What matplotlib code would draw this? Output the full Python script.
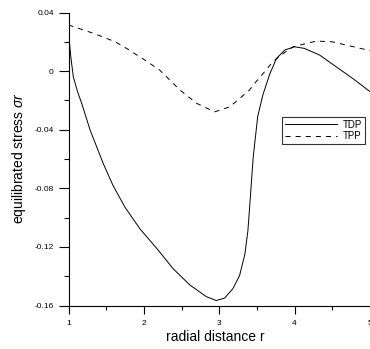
import matplotlib
matplotlib.use("Agg")
import matplotlib.pyplot as plt
from matplotlib.ticker import MultipleLocator, FixedLocator

plt.rcParams['font.family'] = ['Liberation Sans', 'DejaVu Sans']
plt.rcParams['mathtext.fontset'] = 'custom'
plt.rcParams['mathtext.rm'] = 'Liberation Sans'
plt.rcParams['mathtext.it'] = 'Liberation Sans:italic'

# data
tdp_r = [1.0, 1.01, 1.03, 1.064, 1.12, 1.175, 1.285, 1.46, 1.59, 1.75, 1.947, 2.17,
         2.39, 2.61, 2.83, 2.96, 3.07, 3.18, 3.27, 3.34, 3.38, 3.40, 3.45, 3.51, 3.58,
         3.67, 3.76, 3.87, 4.0, 4.13, 4.33, 4.55, 4.77, 5.0]
tdp_v = [0.026, 0.021, 0.010, -0.004, -0.014, -0.022, -0.040, -0.063, -0.078, -0.093,
         -0.1076, -0.121, -0.135, -0.146, -0.154, -0.1566, -0.155, -0.1486, -0.1395,
         -0.125, -0.109, -0.095, -0.059, -0.031, -0.016, -0.002, 0.0087, 0.0144, 0.0166,
         0.0155, 0.011, 0.003, -0.005, -0.014]

tpp_r = [1.0, 1.33, 1.62, 1.77, 1.86, 2.0, 2.21, 2.48, 2.70, 2.94, 3.14, 3.40, 3.45,
         3.62, 3.71, 3.85, 3.98, 4.29, 4.50, 4.68, 5.0]
tpp_v = [0.0315, 0.0258, 0.020, 0.0155, 0.0125, 0.008, 0.0007, -0.013, -0.022, -0.0278,
         -0.0244, -0.013, -0.0096, 0.0007, 0.0064, 0.012, 0.0166, 0.0205, 0.0200, 0.0178,
         0.0140]

series_labels = ["TDP", "TPP"]
x_ticks = [1, 2, 3, 4, 5]
y_ticks = [0.04, 0, -0.04, -0.08, -0.12, -0.16]
y_tick_labels = ["0.04", "0", "-0.04", "-0.08", "-0.12", "-0.16"]

fig = plt.figure(figsize=(3.70, 3.49), dpi=100)
W, H = 370, 349
left, right, top, bottom = 68.5, 370.0, 12.5, 305.5
ax = fig.add_axes([left / W, 1 - bottom / H, (right - left) / W, (bottom - top) / H])

ax.plot(tdp_r, tdp_v, color='black', lw=0.7, label=series_labels[0])
ax.plot(tpp_r, tpp_v, color='black', lw=0.7, dashes=(5.2, 5.2), label=series_labels[1])

ax.set_xlim(1, 5)
ax.set_ylim(-0.16, 0.04)
ax.spines['top'].set_visible(False)
ax.spines['right'].set_visible(False)
for s in ('left', 'bottom'):
    ax.spines[s].set_linewidth(0.8)

ax.xaxis.set_major_locator(FixedLocator(x_ticks))
ax.set_xticklabels([str(t) for t in x_ticks])
ax.xaxis.set_minor_locator(MultipleLocator(0.5))
ax.yaxis.set_major_locator(FixedLocator(y_ticks))
ax.set_yticklabels(y_tick_labels)
ax.yaxis.set_minor_locator(MultipleLocator(0.02))

ax.tick_params(axis='x', which='major', direction='out', length=6, width=0.8, labelsize=6, pad=4.5)
ax.tick_params(axis='x', which='minor', direction='out', length=3, width=0.8)
ax.tick_params(axis='y', which='major', direction='out', length=7, width=0.8, labelsize=6, pad=3.6)
ax.tick_params(axis='y', which='minor', direction='out', length=3.6, width=0.8)

fig.text(19 / W, 1 - 158.5 / H, r"equilibrated stress $\sigma r$", rotation=90,
         ha='center', va='center', fontsize=10)
fig.text(215 / W, 1 - 337 / H, "radial distance r", ha='center', va='center', fontsize=10)

leg = ax.legend(loc='upper left', bbox_to_anchor=((282.3 - left) / (right - left), (bottom - 116.7) / (bottom - top)),
                frameon=True, fancybox=False, edgecolor='black', fontsize=7,
                handlelength=5.3, handletextpad=0.6, borderpad=0.3, labelspacing=0.15,
                borderaxespad=0)
leg.get_frame().set_linewidth(0.8)

fig.savefig("out.png", dpi=100)
